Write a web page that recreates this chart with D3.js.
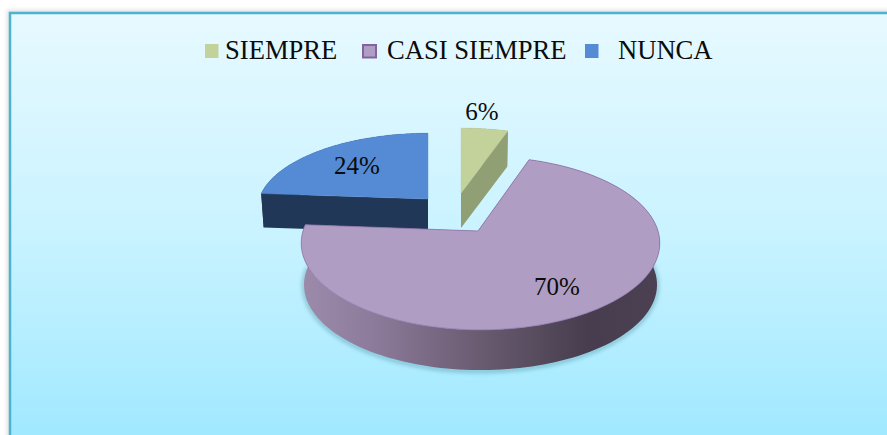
<!DOCTYPE html>
<html><head><meta charset="utf-8">
<script src="https://cdn.jsdelivr.net/npm/d3@7"></script>
<style>html,body{margin:0;padding:0;background:#fff;overflow:hidden}svg{display:block}text{font-family:"Liberation Serif","Times New Roman",serif;fill:#0b0b0b}</style>
</head><body><svg id="c" width="887" height="435"></svg>
<script>
// data
const categories = ["SIEMPRE", "CASI SIEMPRE", "NUNCA"];
const values = [6, 70, 24];
// style
const topColors = ["#c3d29a", "#b09dc3", "#558ad4"];
const sideColors = ["#919f74", "#6a5c72", "#213757"];
// layout (one entry per slice)
const geo = [
  {ax:461, cx:461, ay:193, rx:171, ry:74, k:.14, d:35},
  {ax:478, cx:480.5, ay:231, rx:177.5, ry:85, k:.14, d:42},
  {ax:428, cx:428, ay:199, rx:169, ry:75, k:.14, d:34}
];
const legendSwatchX = [205, 362, 585];
const legendTextX = [225, 387, 618];
const labelPos = [[482,120],[557,295],[357,174]];
const lowerRim = .985;

const svg = d3.select("#c");
const defs = svg.append("defs");
const bg = defs.append("linearGradient").attr("id","bg").attr("x1",0).attr("y1",0).attr("x2",0).attr("y2",1);
bg.append("stop").attr("offset",0).attr("stop-color","#e7f9ff");
bg.append("stop").attr("offset",.5).attr("stop-color","#c9f3ff");
bg.append("stop").attr("offset",1).attr("stop-color","#9de8ff");
const wall = defs.append("linearGradient").attr("id","wall").attr("gradientUnits","userSpaceOnUse")
  .attr("x1",301).attr("y1",0).attr("x2",660).attr("y2",0);
[[0,"#9d8bab"],[.2,"#8d7b9b"],[.5,"#695b70"],[.8,"#473d4e"],[1,"#4b4152"]].forEach(s=>
  wall.append("stop").attr("offset",s[0]).attr("stop-color",s[1]));
const blur = defs.append("filter").attr("id","blur").attr("x","-10%").attr("y","-20%").attr("width","120%").attr("height","140%");
blur.append("feGaussianBlur").attr("stdDeviation",2);
const blurS = defs.append("filter").attr("id","blurS").attr("x","-5%").attr("y","-5%").attr("width","110%").attr("height","110%");
blurS.append("feGaussianBlur").attr("stdDeviation",2);

// frame
svg.append("rect").attr("x",7).attr("y",10).attr("width",890).attr("height",440).attr("fill","#b8b8b8").attr("opacity",.45).attr("filter","url(#blurS)");
svg.append("rect").attr("x",10).attr("y",13).attr("width",890).attr("height",440).attr("fill","url(#bg)").attr("stroke","#4db4cf").attr("stroke-width",2.5);

// projection of a pie angle onto the tilted, exploded disc
const warp = .09;
function project(g, theta, rad=1, dz=0){
  const phi = theta - warp*Math.sin(2*theta);
  const u = Math.sin(phi)*rad, v = Math.cos(phi)*rad, p = 1/(1+g.k*v);
  return [g.cx + g.rx*u*p, g.ay - g.ry*v*p + dz];
}
const pie = d3.pie().sort(null).value(d=>d);
const arcs = pie(values);
const line = d3.line();
const samples = a => d3.range(0,121).map(i=>a.startAngle+(a.endAngle-a.startAngle)*i/120);

// draw order: back slices first
[2,0,1].forEach(i=>{
  const a = arcs[i], g = geo[i], ts = samples(a);
  const top = ts.map(t=>project(g,t));
  const low = ts.map(t=>project(g,t,lowerRim,g.d));
  const apex = [g.ax,g.ay], apexL=[g.ax,g.ay+g.d];
  const sideFill = i===1 ? "url(#wall)" : sideColors[i];
  const G = svg.append("g").attr("class","slice");
  if(i===1){
    G.append("path").attr("d",line(low)).attr("transform","translate(0,1)")
     .attr("fill","none").attr("stroke","#3d7f8f").attr("stroke-width",3).attr("opacity",.55).attr("filter","url(#blur)");
  }
  G.append("path").attr("d",line(top.concat(low.slice().reverse()))+"Z").attr("fill",sideFill);
  [[top[0],low[0]],[top[120],low[120]]].forEach(e=>{
    G.append("path").attr("d",line([apex,e[0],e[1],apexL])+"Z").attr("fill",sideFill);
  });
  G.append("path").attr("d",line([apex].concat(top))+"Z").attr("fill",topColors[i])
    .attr("stroke",i===1?"#9076ad":topColors[i]).attr("stroke-width",i===1?.8:.4);
});

// data labels
const total = d3.sum(values), fmt = d3.format(".0%");
svg.append("g").selectAll("text").data(values).join("text")
  .attr("x",(d,i)=>labelPos[i][0]).attr("y",(d,i)=>labelPos[i][1])
  .attr("text-anchor","middle").attr("font-size",25).text(d=>fmt(d/total));

// legend
const lg = svg.append("g");
categories.forEach((c,i)=>{
  const inset = i===1 ? 1 : 0;
  lg.append("rect").attr("x",legendSwatchX[i]+inset).attr("y",44+inset).attr("width",i===1?13:13.5).attr("height",i===1?12.5:14)
    .attr("fill",topColors[i]).attr("stroke",i===1?"#8362a3":"none").attr("stroke-width",i===1?2:0);
  lg.append("text").attr("x",legendTextX[i]).attr("y",59).attr("font-size",26.6).text(c);
});
</script></body></html>
